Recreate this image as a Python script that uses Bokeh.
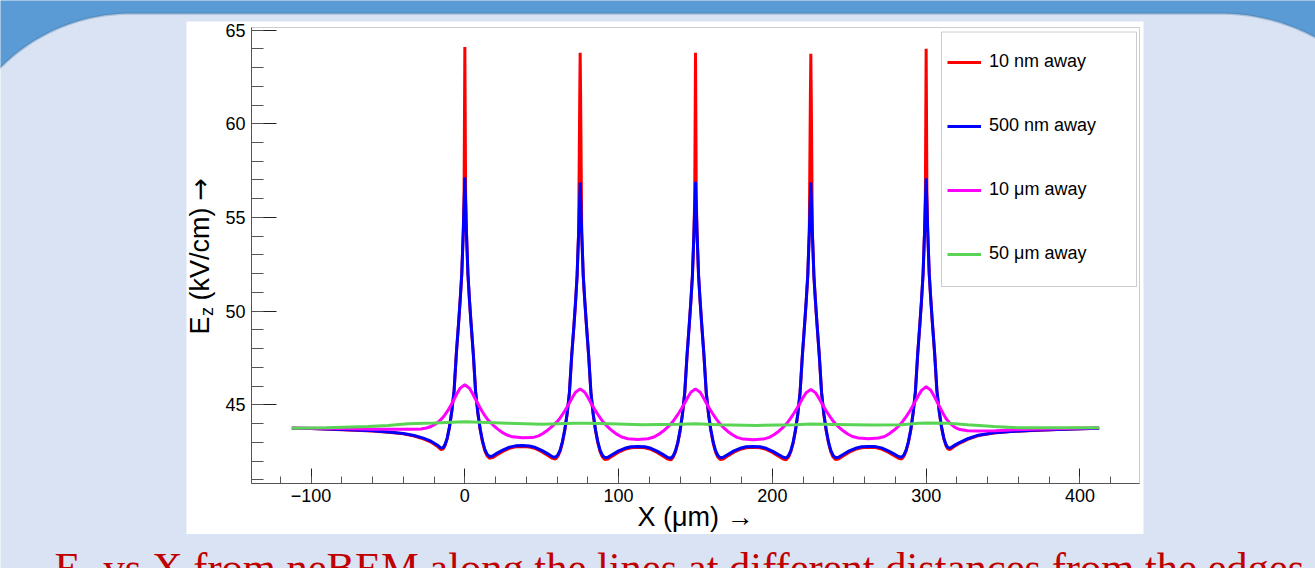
import numpy as np
from bokeh.plotting import figure
from bokeh.models import (Range1d, SingleIntervalTicker, Label, BoxAnnotation,
                          PolyAnnotation, Legend, LegendItem)
from bokeh.embed import file_html
from bokeh.resources import INLINE

# ---------------- data ----------------
series_labels = ["10 nm away", "500 nm away", "10 \u03bcm away", "50 \u03bcm away"]
x_tick_interval = 100
y_tick_interval = 5
x_axis_span = (-138.75, 438.75)
y_axis_span = (40.8, 65.14)

# 500 nm away (blue)
x_500nm = [
    -112.5, -100, -80, -60, -48, -40, -33, -27, -22, -18, -15.5, -14, -13, -11.5, -10, -8.5, -7, -5.5, -4, -3, -2, -1,
    0,
    1, 2, 3, 4, 5.5, 7, 8.5, 10, 11.5, 13, 14.5, 16, 18, 21, 25, 29, 33, 37.5,
    42, 46, 50, 54, 57, 59, 60.5, 62, 63.5, 65, 66.5, 68, 69.5, 71, 72, 73, 74,
    75,
    76, 77, 78, 79, 80.5, 82, 83.5, 85, 86.5, 88, 89.5, 91, 93, 96, 100, 104, 108, 112.5,
    117, 121, 125, 129, 132, 134, 135.5, 137, 138.5, 140, 141.5, 143, 144.5, 146, 147, 148, 149,
    150,
    151, 152, 153, 154, 155.5, 157, 158.5, 160, 161.5, 163, 164.5, 166, 168, 171, 175, 179, 183, 187.5,
    192, 196, 200, 204, 207, 209, 210.5, 212, 213.5, 215, 216.5, 218, 219.5, 221, 222, 223, 224,
    225,
    226, 227, 228, 229, 230.5, 232, 233.5, 235, 236.5, 238, 239.5, 241, 243, 246, 250, 254, 258, 262.5,
    267, 271, 275, 279, 282, 284, 285.5, 287, 288.5, 290, 291.5, 293, 294.5, 296, 297, 298, 299,
    300,
    301, 302, 303, 304, 305.5, 307, 308.5, 310, 311.5, 313, 314, 315.5, 318, 322, 327, 334, 344, 355, 370, 390, 412.5]
ez_500nm = [
    43.75, 43.73, 43.68, 43.61, 43.54, 43.47, 43.36, 43.22, 43.06, 42.86, 42.69, 42.73, 42.86, 43.22, 43.82, 44.66, 45.76, 47.78, 49.45, 50.65, 52.0, 54.3,
    57.14,
    54.3, 52.0, 50.6, 49.4, 47.72, 45.7, 44.55, 43.7, 43.07, 42.62, 42.36, 42.24, 42.27, 42.42, 42.6, 42.74, 42.81, 42.83,
    42.8, 42.72, 42.57, 42.38, 42.23, 42.2, 42.33, 42.6, 43.05, 43.68, 44.52, 45.65, 47.65, 49.3, 50.5, 51.9, 54.2,
    56.87,
    54.2, 51.9, 50.55, 49.35, 47.65, 45.65, 44.5, 43.66, 43.02, 42.57, 42.3, 42.17, 42.2, 42.35, 42.54, 42.68, 42.76, 42.78,
    42.76, 42.68, 42.53, 42.34, 42.19, 42.15, 42.28, 42.55, 43.0, 43.65, 44.5, 45.65, 47.65, 49.35, 50.55, 51.9, 54.2,
    56.9,
    54.2, 51.9, 50.55, 49.35, 47.65, 45.65, 44.5, 43.66, 43.02, 42.57, 42.3, 42.17, 42.2, 42.35, 42.54, 42.68, 42.76, 42.78,
    42.76, 42.68, 42.53, 42.34, 42.2, 42.16, 42.29, 42.56, 43.0, 43.65, 44.5, 45.65, 47.65, 49.35, 50.55, 51.9, 54.2,
    56.86,
    54.2, 51.9, 50.55, 49.35, 47.65, 45.65, 44.5, 43.66, 43.02, 42.57, 42.3, 42.17, 42.2, 42.35, 42.54, 42.68, 42.76, 42.78,
    42.77, 42.7, 42.56, 42.38, 42.24, 42.2, 42.32, 42.6, 43.05, 43.68, 44.55, 45.7, 47.72, 49.4, 50.6, 52.0, 54.3,
    57.09,
    54.3, 52.0, 50.65, 49.45, 47.78, 45.76, 44.66, 43.82, 43.22, 42.86, 42.73, 42.69, 42.82, 43.0, 43.19, 43.38, 43.51, 43.58, 43.64, 43.7, 43.75]

# 10 nm away (red)
x_10nm = [
    -112.5, -100, -80, -60, -48, -40, -33, -27, -22, -18, -15.5, -14, -13, -11.5, -10, -8.5, -7, -5.5, -4, -3, -2, -1,
    -0.5, 0, 0.5,
    1, 2, 3, 4, 5.5, 7, 8.5, 10, 11.5, 13, 14.5, 16, 18, 21, 25, 29, 33, 37.5,
    42, 46, 50, 54, 57, 59, 60.5, 62, 63.5, 65, 66.5, 68, 69.5, 71, 72, 73, 74,
    74.7, 75, 75.3,
    76, 77, 78, 79, 80.5, 82, 83.5, 85, 86.5, 88, 89.5, 91, 93, 96, 100, 104, 108, 112.5,
    117, 121, 125, 129, 132, 134, 135.5, 137, 138.5, 140, 141.5, 143, 144.5, 146, 147, 148, 149,
    149.5, 150, 150.5,
    151, 152, 153, 154, 155.5, 157, 158.5, 160, 161.5, 163, 164.5, 166, 168, 171, 175, 179, 183, 187.5,
    192, 196, 200, 204, 207, 209, 210.5, 212, 213.5, 215, 216.5, 218, 219.5, 221, 222, 223, 224,
    224.7, 225, 225.3,
    226, 227, 228, 229, 230.5, 232, 233.5, 235, 236.5, 238, 239.5, 241, 243, 246, 250, 254, 258, 262.5,
    267, 271, 275, 279, 282, 284, 285.5, 287, 288.5, 290, 291.5, 293, 294.5, 296, 297, 298, 299,
    299.5, 300, 300.5,
    301, 302, 303, 304, 305.5, 307, 308.5, 310, 311.5, 313, 314, 315.5, 318, 322, 327, 334, 344, 355, 370, 390, 412.5]
ez_10nm = [
    43.75, 43.73, 43.67, 43.6, 43.52, 43.45, 43.33, 43.18, 43.01, 42.79, 42.61, 42.65, 42.8, 43.18, 43.8, 44.64, 45.74, 47.76, 49.43, 50.63, 51.98, 54.3,
    56.3, 64.1, 56.3,
    54.3, 51.98, 50.58, 49.38, 47.7, 45.68, 44.52, 43.66, 43.01, 42.54, 42.27, 42.15, 42.18, 42.34, 42.53, 42.68, 42.76, 42.78,
    42.75, 42.66, 42.5, 42.3, 42.14, 42.11, 42.25, 42.53, 43.0, 43.64, 44.49, 45.63, 47.63, 49.28, 50.48, 51.88, 54.2,
    61.4, 63.79, 61.4,
    54.2, 51.88, 50.53, 49.33, 47.63, 45.63, 44.47, 43.62, 42.96, 42.49, 42.21, 42.08, 42.11, 42.27, 42.47, 42.62, 42.71, 42.73,
    42.71, 42.62, 42.46, 42.26, 42.1, 42.06, 42.2, 42.49, 42.95, 43.61, 44.47, 45.63, 47.63, 49.33, 50.53, 51.88, 54.2,
    56.1, 63.79, 56.1,
    54.2, 51.88, 50.53, 49.33, 47.63, 45.63, 44.47, 43.62, 42.96, 42.49, 42.21, 42.08, 42.11, 42.27, 42.47, 42.62, 42.71, 42.73,
    42.71, 42.62, 42.46, 42.26, 42.11, 42.07, 42.21, 42.5, 42.95, 43.61, 44.47, 45.63, 47.63, 49.33, 50.53, 51.88, 54.2,
    61.4, 63.74, 61.4,
    54.2, 51.88, 50.53, 49.33, 47.63, 45.63, 44.47, 43.62, 42.96, 42.49, 42.21, 42.08, 42.11, 42.27, 42.47, 42.62, 42.71, 42.73,
    42.72, 42.64, 42.49, 42.3, 42.15, 42.11, 42.24, 42.54, 43.0, 43.64, 44.52, 45.68, 47.7, 49.38, 50.58, 51.98, 54.3,
    56.3, 64.0, 56.3,
    54.3, 51.98, 50.63, 49.43, 47.76, 45.74, 44.64, 43.8, 43.18, 42.8, 42.65, 42.61, 42.76, 42.96, 43.16, 43.36, 43.5, 43.57, 43.63, 43.7, 43.75]

# 10 um away (magenta)
x_10um = [
    -112.5, -98, -80, -59, -45, -35, -28.5, -25, -22, -19, -17, -15, -13, -11, -9, -7, -5, -3,
    0,
    3, 5, 7, 9, 11, 13, 15, 17, 19, 21, 24, 27, 31, 37.5,
    44, 48, 51, 54, 56, 58, 60, 62, 64, 66, 68, 70, 72,
    75,
    78, 80, 82, 84, 86, 88, 90, 92, 94, 96, 99, 102, 106, 112.5,
    119, 123, 126, 129, 131, 133, 135, 137, 139, 141, 143, 145, 147,
    150,
    153, 155, 157, 159, 161, 163, 165, 167, 169, 171, 174, 177, 181, 187.5,
    194, 198, 201, 204, 206, 208, 210, 212, 214, 216, 218, 220, 222,
    225,
    228, 230, 232, 234, 236, 238, 240, 242, 244, 246, 249, 252, 256, 262.5,
    269, 273, 276, 279, 281, 283, 285, 287, 289, 291, 293, 295, 297,
    300,
    303, 305, 307, 309, 311, 313, 316, 319, 322, 327, 333.5, 345, 358, 370, 390, 412.5]
ez_10um = [
    43.75, 43.75, 43.73, 43.7, 43.69, 43.69, 43.71, 43.76, 43.84, 43.98, 44.1, 44.26, 44.46, 44.7, 44.99, 45.3, 45.62, 45.89,
    46.07,
    45.88, 45.6, 45.28, 44.98, 44.68, 44.42, 44.2, 44.03, 43.87, 43.73, 43.54, 43.4, 43.29, 43.24,
    43.25, 43.34, 43.48, 43.66, 43.8, 43.94, 44.1, 44.3, 44.55, 44.82, 45.1, 45.4, 45.67,
    45.85,
    45.67, 45.4, 45.1, 44.82, 44.55, 44.3, 44.08, 43.9, 43.74, 43.6, 43.42, 43.28, 43.19, 43.15,
    43.19, 43.28, 43.42, 43.6, 43.74, 43.9, 44.08, 44.3, 44.55, 44.82, 45.1, 45.4, 45.67,
    45.85,
    45.67, 45.4, 45.1, 44.82, 44.55, 44.3, 44.07, 43.89, 43.73, 43.58, 43.4, 43.26, 43.17, 43.13,
    43.17, 43.26, 43.4, 43.58, 43.73, 43.89, 44.07, 44.3, 44.55, 44.82, 45.1, 45.4, 45.65,
    45.82,
    45.65, 45.39, 45.09, 44.81, 44.55, 44.3, 44.08, 43.9, 43.75, 43.61, 43.44, 43.31, 43.23, 43.19,
    43.23, 43.31, 43.46, 43.64, 43.78, 43.95, 44.14, 44.37, 44.62, 44.9, 45.2, 45.5, 45.77,
    45.97,
    45.78, 45.5, 45.18, 44.86, 44.54, 44.26, 43.97, 43.78, 43.68, 43.62, 43.6, 43.62, 43.67, 43.7, 43.74, 43.77]

# 50 um away (green)
x_50um = [-112.5, -90, -63, -50, -37, -20, -8, 0, 10, 28, 50, 71, 80, 100, 115, 140,
          150, 165, 190, 215, 225, 240, 265, 284, 295, 300, 314, 327, 344, 360, 385, 412.5]
ez_50um = [43.75, 43.77, 43.84, 43.9, 43.99, 44.03, 44.07, 44.09, 44.07, 44.02, 43.96, 44.02, 44.02, 43.97, 43.93, 43.96,
           43.99, 43.93, 43.9, 43.94, 43.97, 43.95, 43.92, 43.93, 44.02, 44.03, 44.02, 43.93, 43.84, 43.77, 43.77, 43.77]

# ---------------- page geometry ----------------
W, H = 1315, 568
FL, FR, FT, FB = 251, 1139, 27, 483          # chart frame in page pixels

# the Bokeh frame covers the whole page; the chart axes are pinned at the chart frame
ux = (x_axis_span[1] - x_axis_span[0]) / (FR - FL)
uy = (y_axis_span[1] - y_axis_span[0]) / (FB - FT)
x_full = (x_axis_span[0] - FL * ux, x_axis_span[1] + (W - FR) * ux)
y_full = (y_axis_span[0] - (H - FB) * uy, y_axis_span[1] + FT * uy)

p = figure(width=W, height=H, output_backend="svg", toolbar_location=None, title=None,
           x_range=Range1d(*x_full), y_range=Range1d(*y_full), min_border=0)
p.xgrid.visible = False
p.ygrid.visible = False
p.background_fill_color = "#dae3f3"
p.border_fill_color = "#dae3f3"
p.outline_line_alpha = 0


def sx(cx):
    return cx


def sy(cy):
    return H - cy


# slide header (blue band with rounded corners)
la = np.linspace(0, np.arcsin(135 / 183.5), 30)
ra = np.linspace(np.arcsin(100 / 200.0), 0, 30)
hx = [-5, 1320] + list(1220 + 200 * np.sin(ra)) + list(130 - 183.5 * np.sin(la))
hy = [-5, -5] + list(213 - 200 * np.cos(ra)) + list(196.5 - 183.5 * np.cos(la))
p.add_layout(PolyAnnotation(xs=[sx(v) for v in hx], ys=[sy(v) for v in hy],
                            xs_units="screen", ys_units="screen",
                            fill_color="#5b9bd5", fill_alpha=1,
                            line_color="#41719c", line_width=2.5, level="underlay"))

# white picture panel
p.add_layout(BoxAnnotation(left=sx(186), right=sx(1143), top=sy(21), bottom=sy(533.5),
                           left_units="screen", right_units="screen",
                           top_units="screen", bottom_units="screen",
                           fill_color="white", fill_alpha=1, line_alpha=0, level="underlay"))

# chart frame box
p.add_layout(BoxAnnotation(left=x_axis_span[0], right=x_axis_span[1],
                           bottom=y_axis_span[0], top=y_axis_span[1],
                           fill_alpha=0, line_color="#555555", line_width=1, level="underlay"))

# legend frame
p.add_layout(BoxAnnotation(left=sx(941), right=sx(1136), top=sy(31.5), bottom=sy(286),
                           left_units="screen", right_units="screen",
                           top_units="screen", bottom_units="screen",
                           fill_color="white", fill_alpha=1, line_color="#555555",
                           line_width=1, level="underlay"))

# curves
r10 = p.line(x_10nm, ez_10nm, line_color="#ff0000", line_width=3, line_join="bevel")
r500 = p.line(x_500nm, ez_500nm, line_color="#0000ff", line_width=3, line_join="bevel")
r10u = p.line(x_10um, ez_10um, line_color="#ff00ff", line_width=3)
r50u = p.line(x_50um, ez_50um, line_color="#59d454", line_width=3)

legend = Legend(items=[LegendItem(label=series_labels[0], renderers=[r10]),
                       LegendItem(label=series_labels[1], renderers=[r500]),
                       LegendItem(label=series_labels[2], renderers=[r10u]),
                       LegendItem(label=series_labels[3], renderers=[r50u])],
                location=(941, H - 270), orientation="vertical",
                glyph_width=34, glyph_height=20, label_height=20, spacing=43,
                padding=6, margin=0, label_standoff=8,
                label_text_font="Liberation Sans", label_text_font_size="18px",
                label_text_color="black",
                border_line_alpha=0, background_fill_alpha=0)
p.add_layout(legend)

# axes (ROOT style: ticks inside), pinned to the chart frame
xa = p.xaxis[0]
xa.fixed_location = y_axis_span[0]
xa.bounds = x_axis_span
xa.ticker = SingleIntervalTicker(interval=x_tick_interval, num_minor_ticks=5)
xa.major_tick_in = 15
xa.major_tick_out = 0
xa.minor_tick_in = 7
xa.minor_tick_out = 0
xa.major_tick_line_color = "#222222"
xa.minor_tick_line_color = "#555555"
xa.axis_line_color = "#555555"
xa.major_label_text_font = "Liberation Sans"
xa.major_label_text_font_size = "18px"
xa.major_label_text_color = "black"
xa.major_label_standoff = 5
xa.major_label_overrides = {-100: "\u2212100"}
xa.axis_label = "X (\u03bcm) \u2192"
xa.axis_label_text_font = "Liberation Sans"
xa.axis_label_text_font_size = "27px"
xa.axis_label_text_font_style = "normal"
xa.axis_label_text_color = "black"
xa.axis_label_standoff = -3

ya = p.yaxis[0]
ya.fixed_location = x_axis_span[0]
ya.bounds = y_axis_span
ya.ticker = SingleIntervalTicker(interval=y_tick_interval, num_minor_ticks=5)
ya.major_tick_in = 25
ya.major_tick_out = 0
ya.minor_tick_in = 12
ya.minor_tick_out = 0
ya.major_tick_line_color = "#222222"
ya.minor_tick_line_color = "#555555"
ya.axis_line_color = "#555555"
ya.major_label_text_font = "Liberation Sans"
ya.major_label_text_font_size = "18px"
ya.major_label_text_color = "black"
ya.major_label_standoff = 6

# y-axis title  E_z (kV/cm) ->  (rotated)
ang = np.pi / 2
ybase = 199
p.add_layout(Label(x=sx(ybase), y=sy(334), x_units="screen", y_units="screen", angle=ang,
                   text="E", text_font="Liberation Sans", text_font_size="27px",
                   text_color="black", text_baseline="alphabetic", text_align="left"))
p.add_layout(Label(x=sx(ybase + 7), y=sy(315.5), x_units="screen", y_units="screen", angle=ang,
                   text="z", text_font="Liberation Sans", text_font_size="18px",
                   text_color="black", text_baseline="alphabetic", text_align="left"))
p.add_layout(Label(x=sx(ybase), y=sy(300), x_units="screen", y_units="screen", angle=ang,
                   text="(kV/cm)", text_font="Liberation Sans", text_font_size="27px",
                   text_color="black", text_baseline="alphabetic", text_align="left"))
p.add_layout(Label(x=sx(ybase), y=sy(200), x_units="screen", y_units="screen", angle=ang,
                   text="\u2192", text_font="DejaVu Sans", text_font_size="27px",
                   text_color="black", text_baseline="alphabetic", text_align="left"))

# slide caption (cut by the window bottom)
cap_base = 566.8
p.add_layout(Label(x=sx(54), y=sy(cap_base), x_units="screen", y_units="screen",
                   text="E", text_font="Liberation Serif", text_font_size="42.5px",
                   text_color="#c00000", text_baseline="alphabetic"))
p.add_layout(Label(x=sx(80), y=sy(cap_base + 9), x_units="screen", y_units="screen",
                   text="z", text_font="Liberation Serif", text_font_size="28px",
                   text_color="#c00000", text_baseline="alphabetic"))
p.add_layout(Label(x=sx(103), y=sy(cap_base), x_units="screen", y_units="screen",
                   text="vs X from neBEM along the lines at different distances from the edges",
                   text_font="Liberation Serif", text_font_size="42.5px",
                   text_color="#c00000", text_baseline="alphabetic"))

open("out.html", "w").write(file_html(p, INLINE))
